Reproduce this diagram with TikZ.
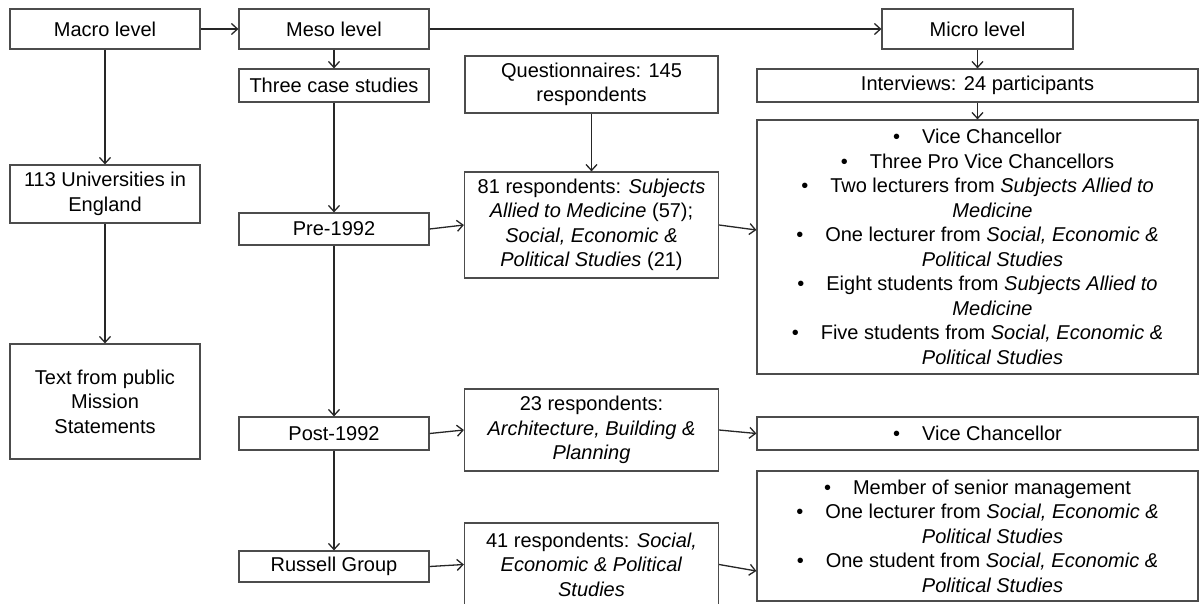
\documentclass[tikz,border=0pt]{standalone}
\usepackage{fontspec}
\setmainfont{Liberation Sans}
\usetikzlibrary{arrows.meta}
\newcommand{\bitem}{\textbullet\hspace{22pt}}
\newcommand{\cont}{\hspace*{30pt}}
\begin{document}
\begin{tikzpicture}[x=1pt,y=-1pt,
  box/.style={draw=black!70, line width=1.2pt, inner sep=0pt, align=center,
    font=\fontsize{20}{24.5}\selectfont},
  arr/.style={-{Straight Barb[length=6pt,width=11pt]}, line width=1.3pt, draw=black!85}]
\useasboundingbox[fill=white] (0,0) rectangle (1200,603);
% macro column
\node[box, minimum width=190pt, minimum height=40pt] (macro) at (105,29) {Macro level};
\node[box, minimum width=190pt, minimum height=58pt] (univ) at (105,194) {113 Universities in\\England};
\node[box, minimum width=190pt, minimum height=115pt] (mission) at (105,401.5) {Text from public\\Mission\\Statements};
% meso column
\node[box, minimum width=190pt, minimum height=40pt] (meso) at (334,29) {Meso level};
\node[box, minimum width=190pt, minimum height=33pt] (three) at (334,85.5) {Three case studies};
\node[box, minimum width=190pt, minimum height=32pt] (pre) at (334,229) {Pre-1992};
\node[box, minimum width=190pt, minimum height=33pt] (post) at (334,433.5) {Post-1992};
\node[box, minimum width=190pt, minimum height=31pt] (russell) at (334,566.5) {Russell Group};
% questionnaire column
\node[box, minimum width=253pt, minimum height=57pt] (quest) at (591.5,84.5) {Questionnaires: 145\\respondents};
\node[box, minimum width=254pt, minimum height=106pt] (r81) at (591.5,225) {81 respondents: \textit{Subjects}\\\textit{Allied to Medicine} (57);\\\textit{Social, Economic \&}\\\textit{Political Studies} (21)};
\node[box, minimum width=254pt, minimum height=82pt] (r23) at (591.5,430) {23 respondents:\\\textit{Architecture, Building \&}\\\textit{Planning}};
\node[box, minimum width=254pt, minimum height=83pt] (r41) at (591.5,564.5) {41 respondents: \textit{Social,}\\\textit{Economic \& Political}\\\textit{Studies}};
% micro column
\node[box, minimum width=191pt, minimum height=40pt] (micro) at (977.5,29) {Micro level};
\node[box, minimum width=441pt, minimum height=33pt] (interv) at (977.5,85.5) {Interviews: 24 participants};
\node[box, minimum width=441pt, minimum height=254pt] (mbig) at (977.5,247) {\bitem Vice Chancellor\\
\bitem Three Pro Vice Chancellors\\
\bitem Two lecturers from \textit{Subjects Allied to}\\
\cont\textit{Medicine}\\
\bitem One lecturer from \textit{Social, Economic \&}\\
\cont\textit{Political Studies}\\
\bitem Eight students from \textit{Subjects Allied to}\\
\cont\textit{Medicine}\\
\bitem Five students from \textit{Social, Economic \&}\\
\cont\textit{Political Studies}};
\node[box, minimum width=441pt, minimum height=33pt] (vc) at (977.5,433.5) {\bitem Vice Chancellor};
\node[box, minimum width=441pt, minimum height=130pt] (mbot) at (977.5,536) {\bitem Member of senior management\\
\bitem One lecturer from \textit{Social, Economic \&}\\
\cont\textit{Political Studies}\\
\bitem One student from \textit{Social, Economic \&}\\
\cont\textit{Political Studies}};
% connectors
\draw[arr] (macro.east) -- (meso.west);
\draw[arr] (meso.east) -- (micro.west);
\draw[arr] (macro.south) -- (univ.north);
\draw[arr] (univ.south) -- (mission.north);
\draw[arr] (meso.south) -- (three.north);
\draw[arr] (three.south) -- (pre.north);
\draw[arr] (pre.south) -- (post.north);
\draw[arr] (post.south) -- (russell.north);
\draw[arr] (quest.south) -- (r81.north);
\draw[arr] (micro.south) -- (interv.north);
\draw[arr] (interv.south) -- (mbig.north);
\draw[arr] (pre.east) -- (r81.west);
\draw[arr] (post.east) -- (r23.west);
\draw[arr] (russell.east) -- (r41.west);
\draw[arr] (r81.east) -- ([yshift=17pt]mbig.west);
\draw[arr] (r23.east) -- (vc.west);
\draw[arr] (r41.east) -- ([yshift=-35pt]mbot.west);
\end{tikzpicture}
\end{document}
